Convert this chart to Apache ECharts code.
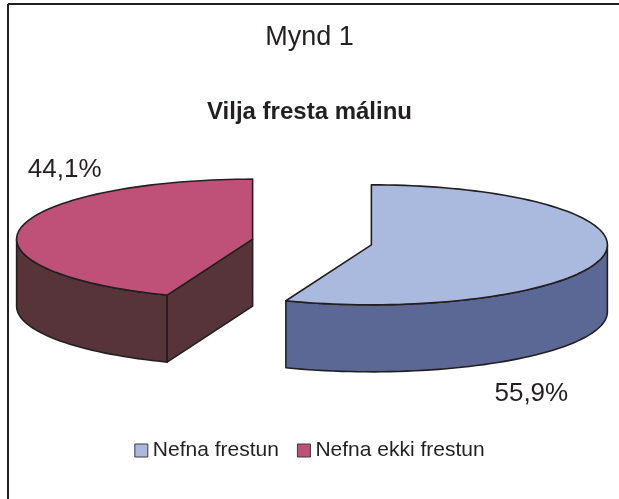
<!DOCTYPE html>
<html>
<head>
<meta charset="utf-8">
<script src="https://cdn.jsdelivr.net/npm/echarts@6/dist/echarts.min.js"></script>
<style>
html, body { margin: 0; padding: 0; background: #fff; }
#chart { width: 619px; height: 499px; }
</style>
</head>
<body>
<div id="chart"></div>
<script>
// gögn
var categories = ['Nefna frestun', 'Nefna ekki frestun'];
var values = [55.9, 44.1];
var topColors = ['#aab9de', '#bf5078'];
var sideColors = ['#5b6795', '#57343a'];

var chart = echarts.init(document.getElementById('chart'));

var total = values.reduce(function (a, b) { return a + b; }, 0);
var starts = [];
var acc = 0;
values.forEach(function (v) { starts.push(acc / total * 360); acc += v; });

// hallandi kaka: miðja, radíusar, þykkt, útdráttur
var pie = { cx: 312, cy: 242, rx: 236, ry: 60, depth: 67, explode: 0.256 };
var labelOffset = [[-72, 138], [44, -58]];
var font = '"Liberation Sans", Arial, sans-serif';

function pt(c, ang, r) {
    var a = ang * Math.PI / 180;
    return [c[0] + pie.rx * r * Math.sin(a), c[1] - pie.ry * r * Math.cos(a)];
}
function arc(c, a0, a1, dy) {
    var pts = [], n = Math.max(2, Math.ceil((a1 - a0) / 2));
    for (var i = 0; i <= n; i++) {
        var p = pt(c, a0 + (a1 - a0) * i / n, 1);
        pts.push([p[0], p[1] + dy]);
    }
    return pts;
}

function renderSlice(idx) {
    return function (params, api) {
        var a0 = starts[idx];
        var a1 = a0 + api.value(0) / total * 360;
        var mid = (a0 + a1) / 2;
        var c = pt([pie.cx, pie.cy], mid, pie.explode);
        var d = pie.depth;
        var line = { stroke: '#231f20', lineWidth: 1.6, lineJoin: 'round' };
        var children = [];

        // ytri veggur, sést bara að framan (90°–270°)
        var w0 = Math.max(a0, 90), w1 = Math.min(a1, 270);
        if (w1 > w0) {
            var pts = arc(c, w0, w1, 0).concat(arc(c, w0, w1, d).reverse());
            children.push({ type: 'polygon', shape: { points: pts },
                style: Object.assign({ fill: sideColors[idx] }, line) });
        }
        // skurðfletir
        [[a0, a0 - 90], [a1, a1 + 90]].forEach(function (f) {
            if (Math.cos(f[1] * Math.PI / 180) < -1e-6) {
                var r = pt(c, f[0], 1);
                children.push({ type: 'polygon',
                    shape: { points: [c, r, [r[0], r[1] + d], [c[0], c[1] + d]] },
                    style: Object.assign({ fill: sideColors[idx] }, line) });
            }
        });
        // toppflötur
        children.push({ type: 'polygon', shape: { points: [c].concat(arc(c, a0, a1, 0)) },
            style: Object.assign({ fill: topColors[idx] }, line) });

        // prósentumerki
        var lp = pt(c, mid, 1);
        children.push({ type: 'text',
            x: lp[0] + labelOffset[idx][0], y: lp[1] + labelOffset[idx][1],
            style: { text: api.value(0).toFixed(1).replace('.', ',') + '%',
                fill: '#231f20', font: '26px ' + font, align: 'center', verticalAlign: 'middle' } });

        return { type: 'group', children: children };
    };
}

var option = {
    backgroundColor: '#fff',
    animation: false,
    title: [
        { text: 'Mynd 1', left: 'center', top: 19,
          textStyle: { fontFamily: font, fontSize: 27, fontWeight: 'normal', color: '#231f20' } },
        { text: 'Vilja fresta málinu', left: 'center', top: 95,
          textStyle: { fontFamily: font, fontSize: 24, fontWeight: 'bold', color: '#231f20' } }
    ],
    legend: {
        data: categories,
        top: 440, left: 'center', padding: 0,
        icon: 'rect', itemWidth: 13, itemHeight: 13, itemGap: 18,
        itemStyle: { borderColor: '#3a3a3a', borderWidth: 1 },
        textStyle: { fontFamily: font, fontSize: 21, color: '#231f20' }
    },
    graphic: [
        { type: 'line', shape: { x1: 8, y1: 4, x2: 619, y2: 4 }, style: { stroke: '#231f20', lineWidth: 2 } },
        { type: 'line', shape: { x1: 8, y1: 4, x2: 8, y2: 499 }, style: { stroke: '#231f20', lineWidth: 2 } }
    ],
    series: categories.map(function (name, i) {
        return {
            name: name,
            type: 'custom',
            coordinateSystem: 'none',
            itemStyle: { color: topColors[i] },
            renderItem: renderSlice(i),
            data: [[values[i]]]
        };
    })
};

chart.setOption(option);
</script>
</body>
</html>
